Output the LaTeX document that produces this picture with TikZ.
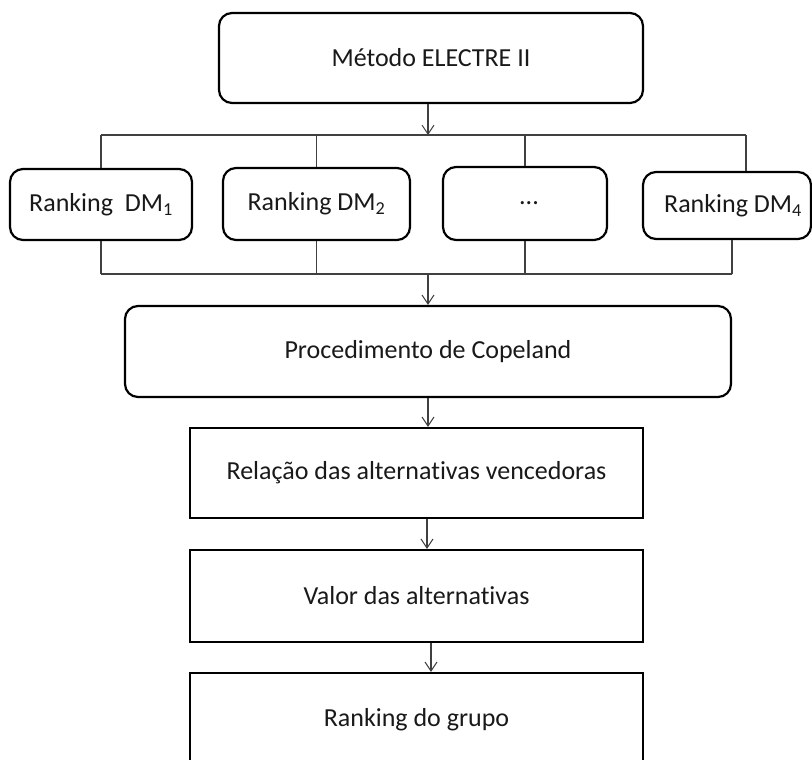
\documentclass[tikz,border=0pt]{standalone}
\usepackage{fontspec}
\setmainfont[Ligatures=NoCommon]{Carlito}
\usetikzlibrary{arrows.meta}
\begin{document}
\begin{tikzpicture}[x=1pt,y=-1pt,
  every node/.style={font=\fontsize{26}{30}\selectfont, text=black!90},
  rbox/.style={draw=black, line width=2.2pt, rounded corners=13pt, inner sep=0pt},
  sbox/.style={draw=black, line width=2.2pt, inner sep=0pt},
  link/.style={draw=black!75, line width=1.1pt},
  arr/.style={link, -{Straight Barb[length=9pt,width=12pt,line width=1pt]}}
]
\useasboundingbox (0,0) rectangle (812,760);
% boxes
\node[rbox, minimum width=424pt, minimum height=90pt] (top) at (431,58) {\raisebox{-2pt}{Método ELECTRE II}};
\node[rbox, minimum width=182pt, minimum height=71pt] (dm1) at (101,204.5) {Ranking\ \ DM\textsubscript{1}};
\node[rbox, minimum width=187pt, minimum height=72pt] (dm2) at (316.5,204) {Ranking DM\textsubscript{2}};
\node[rbox, minimum width=164pt, minimum height=73pt] (dots) at (525,203.5) {\hspace{8pt}...};
\node[rbox, minimum width=168pt, minimum height=67pt] (dm4) at (727,205.5) {\hspace{12pt}Ranking DM\textsubscript{4}};
\node[rbox, minimum width=606pt, minimum height=91pt] (cope) at (428,351.5) {Procedimento de Copeland};
\node[sbox, minimum width=453pt, minimum height=90pt] (rel) at (416.5,473) {Relação das alternativas vencedoras};
\node[sbox, minimum width=453pt, minimum height=92pt] (val) at (416.5,596) {Valor das alternativas};
\node[sbox, minimum width=453pt, minimum height=94pt] (grp) at (416.5,720) {Ranking do grupo};
% bus coordinates
\coordinate (tb) at (428,135);
\coordinate (bb) at (428,274);
\coordinate (t4) at (746,135);
\coordinate (b4) at (732,274);
\coordinate (a1) at (428,0);
\coordinate (a2) at (427,0);
\coordinate (a3) at (431,0);
% top distribution
\draw[arr] (top.south -| tb) -- (tb);
\draw[link] (dm1.north |- tb) -- (t4);
\draw[link] (dm1.north |- tb) -- (dm1.north);
\draw[link] (dm2.north |- tb) -- (dm2.north);
\draw[link] (dots.north |- tb) -- (dots.north);
\draw[link] (t4) -- (t4 |- dm4.north);
% bottom collection
\draw[link] (dm1.south |- bb) -- (b4);
\draw[link] (dm1.south) -- (dm1.south |- bb);
\draw[link] (dm2.south) -- (dm2.south |- bb);
\draw[link] (dots.south) -- (dots.south |- bb);
\draw[link] (b4 |- dm4.south) -- (b4);
\draw[arr] (bb) -- (bb |- cope.north);
% chain
\draw[arr] (cope.south -| a1) -- (rel.north -| a1);
\draw[arr] (rel.south -| a2) -- (val.north -| a2);
\draw[arr] (val.south -| a3) -- (grp.north -| a3);
\end{tikzpicture}
\end{document}
